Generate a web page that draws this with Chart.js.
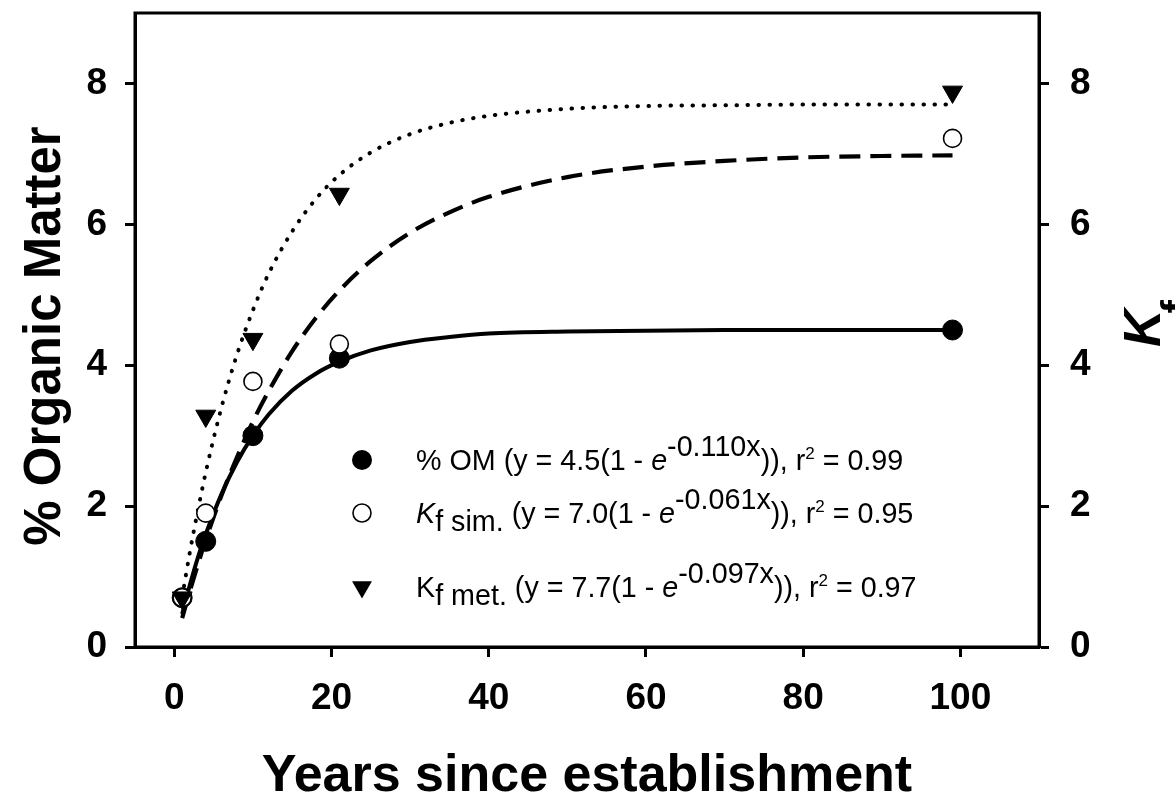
<!DOCTYPE html>
<html>
<head>
<meta charset="utf-8">
<script src="https://cdn.jsdelivr.net/npm/chart.js@4.4.1/dist/chart.umd.min.js"></script>
<style>
  html, body { margin: 0; padding: 0; background: #fff; }
  canvas { display: block; }
</style>
</head>
<body>
<canvas id="chart" width="1175" height="796"></canvas>
<script>
// Measured values: years since establishment
const years = [1, 4, 10, 21, 99];
const organicMatter = [0.7, 1.5, 3.0, 4.1, 4.5];
const kfSim = [0.7, 1.9, 3.77, 4.3, 7.22];
const kfMet = [0.7, 3.28, 4.37, 6.43, 7.88];

// Fitted exponential-rise curves (values of the stated regressions)
const fitYears = [1, 2, 3, 4, 6, 8, 10, 12, 15, 18, 21, 25, 30, 35, 40, 50, 60, 70, 80, 90, 99];
const fitOM  = [0.47, 0.89, 1.27, 1.60, 2.17, 2.63, 3.00, 3.30, 3.64, 3.88, 4.05, 4.21, 4.33, 4.40, 4.45, 4.48, 4.49, 4.50, 4.50, 4.50, 4.50];
const fitSim = [0.41, 0.80, 1.17, 1.52, 2.15, 2.70, 3.20, 3.63, 4.20, 4.67, 5.06, 5.48, 5.88, 6.17, 6.39, 6.67, 6.82, 6.90, 6.95, 6.97, 6.98];
const fitMet = [0.71, 1.36, 1.94, 2.48, 3.40, 4.16, 4.78, 5.30, 5.90, 6.36, 6.70, 7.02, 7.28, 7.44, 7.54, 7.64, 7.68, 7.69, 7.70, 7.70, 7.70];

// Axis ticks
const xTicks = [0, 20, 40, 60, 80, 100];
const yTicks = [0, 2, 4, 6, 8];

const FAMILY = '"Liberation Sans", Arial, Helvetica, sans-serif';
const pts = (xs, ys) => xs.map((x, i) => ({ x: x, y: ys[i] }));

const tickFont = { family: FAMILY, size: 37, weight: 'bold' };
const gridOpts = { drawOnChartArea: false, drawTicks: true, tickLength: 10, tickWidth: 3, tickColor: '#000', color: '#000' };
const borderOpts = { display: true, width: 3, color: '#000' };

function yScale(position, width, pad) {
  return {
    type: 'linear', position: position, min: 0, max: 9,
    afterBuildTicks: s => { s.ticks = yTicks.map(v => ({ value: v })); },
    afterFit: s => { s.width = width; s.paddingTop = 0; s.paddingBottom = 0; },
    grid: gridOpts, border: borderOpts,
    ticks: { font: tickFont, color: '#000', padding: pad, autoSkip: false }
  };
}

// Draws a run of text pieces with individual fonts and baseline shifts
function drawRuns(ctx, x, y, runs) {
  for (const r of runs) {
    ctx.font = r.font;
    ctx.fillText(r.t, x, y + (r.dy || 0));
    x += ctx.measureText(r.t).width;
  }
}

function downTriangle(ctx, x, y, r) {
  ctx.beginPath();
  for (let k = 0; k < 3; k++) {
    const a = Math.PI + k * 2 * Math.PI / 3;
    const px = x + Math.sin(a) * r, py = y - Math.cos(a) * r;
    if (k === 0) ctx.moveTo(px, py); else ctx.lineTo(px, py);
  }
  ctx.closePath();
  ctx.fill();
}

const decor = {
  id: 'decor',
  beforeDatasetsDraw(chart) {
    const ctx = chart.ctx, a = chart.chartArea;
    ctx.save();
    ctx.strokeStyle = '#000';
    ctx.lineWidth = 3;
    ctx.strokeRect(a.left, a.top, a.right - a.left, a.bottom - a.top);
    ctx.restore();
  },
  afterDraw(chart) {
    const ctx = chart.ctx, a = chart.chartArea;
    ctx.save();
    ctx.fillStyle = '#000';
    ctx.strokeStyle = '#000';
    ctx.textBaseline = 'alphabetic';

    // x axis title
    ctx.textAlign = 'center';
    ctx.font = 'bold 52px ' + FAMILY;
    ctx.fillText('Years since establishment', (a.left + a.right) / 2, 791);

    // left axis title
    ctx.save();
    ctx.translate(60, 336);
    ctx.rotate(-Math.PI / 2);
    ctx.font = 'bold 51px ' + FAMILY;
    ctx.fillText('% Organic Matter', 0, 0);
    ctx.restore();

    // right axis title: K with subscript f
    ctx.save();
    ctx.translate(1160, 328);
    ctx.rotate(-Math.PI / 2);
    ctx.textAlign = 'left';
    ctx.font = 'italic bold 52px ' + FAMILY;
    ctx.fillText('K', -19, 0);
    const kw = ctx.measureText('K').width;
    ctx.font = 'bold 40px ' + FAMILY;
    ctx.fillText('f', -19 + kw - 4, 30);
    ctx.restore();

    // legend
    ctx.textAlign = 'left';
    const REG = '28.7px ' + FAMILY;
    const ITA = 'italic 28.7px ' + FAMILY;
    const SUP2 = '17px ' + FAMILY;
    const sx = 362, tx = 416;

    ctx.beginPath();
    ctx.arc(sx, 460, 10, 0, Math.PI * 2);
    ctx.fill();
    drawRuns(ctx, tx, 470, [
      { t: '% OM (y = 4.5(1 - ', font: REG },
      { t: 'e', font: ITA },
      { t: '-0.110x', font: REG, dy: -14 },
      { t: ')), r', font: REG },
      { t: '2', font: SUP2, dy: -11 },
      { t: ' = 0.99', font: REG }
    ]);

    ctx.beginPath();
    ctx.arc(sx, 513, 9, 0, Math.PI * 2);
    ctx.fillStyle = '#fff';
    ctx.fill();
    ctx.lineWidth = 1.6;
    ctx.stroke();
    ctx.fillStyle = '#000';
    drawRuns(ctx, tx, 523, [
      { t: 'K', font: ITA },
      { t: 'f sim.', font: REG, dy: 8 },
      { t: ' (y = 7.0(1 - ', font: REG },
      { t: 'e', font: ITA },
      { t: '-0.061x', font: REG, dy: -14 },
      { t: ')), r', font: REG },
      { t: '2', font: SUP2, dy: -11 },
      { t: ' = 0.95', font: REG }
    ]);

    downTriangle(ctx, sx, 587, 11.5);
    drawRuns(ctx, tx, 597, [
      { t: 'K', font: REG },
      { t: 'f met.', font: REG, dy: 8 },
      { t: ' (y = 7.7(1 - ', font: REG },
      { t: 'e', font: ITA },
      { t: '-0.097x', font: REG, dy: -14 },
      { t: ')), r', font: REG },
      { t: '2', font: SUP2, dy: -11 },
      { t: ' = 0.97', font: REG }
    ]);
    ctx.restore();
  }
};

new Chart(document.getElementById('chart'), {
  type: 'scatter',
  data: {
    datasets: [
      { label: 'OM fit', data: pts(fitYears, fitOM), showLine: true, pointRadius: 0,
        borderColor: '#000', borderWidth: 4, cubicInterpolationMode: 'monotone', order: 10, yAxisID: 'y' },
      { label: 'Kf sim. fit', data: pts(fitYears, fitSim), showLine: true, pointRadius: 0,
        borderColor: '#000', borderWidth: 4.2, borderDash: [21, 10], cubicInterpolationMode: 'monotone', order: 9, yAxisID: 'y2' },
      { label: 'Kf met. fit', data: pts(fitYears, fitMet), showLine: true, pointRadius: 0,
        borderColor: '#000', borderWidth: 4, borderDash: [0.5, 10.5], borderCapStyle: 'round',
        cubicInterpolationMode: 'monotone', order: 8, yAxisID: 'y2' },
      { label: '% OM', data: pts(years, organicMatter), pointStyle: 'circle', pointRadius: 10,
        backgroundColor: '#000', borderColor: '#000', borderWidth: 1, order: 3, yAxisID: 'y' },
      { label: 'Kf sim.', data: pts(years, kfSim), pointStyle: 'circle', pointRadius: 9,
        backgroundColor: '#fff', borderColor: '#000', borderWidth: 1.6, order: 2, yAxisID: 'y2' },
      { label: 'Kf met.', data: pts(years, kfMet), pointStyle: 'triangle', pointRotation: 180, pointRadius: 11.5,
        backgroundColor: '#000', borderColor: '#000', borderWidth: 1, order: 1, yAxisID: 'y2' }
    ]
  },
  options: {
    responsive: false,
    animation: false,
    events: [],
    layout: { padding: { top: 13, right: 0, bottom: 0, left: 0 } },
    plugins: { legend: { display: false }, tooltip: { enabled: false } },
    scales: {
      x: {
        type: 'linear', position: 'bottom', min: -5, max: 110,
        afterBuildTicks: s => { s.ticks = xTicks.map(v => ({ value: v })); },
        afterFit: s => { s.height = 149; s.paddingLeft = 0; s.paddingRight = 0; },
        grid: gridOpts, border: borderOpts,
        ticks: { font: tickFont, color: '#000', padding: 20, maxRotation: 0, autoSkip: false }
      },
      y: yScale('left', 135, 18),
      y2: yScale('right', 136, 21)
    }
  },
  plugins: [decor]
});
</script>
</body>
</html>
